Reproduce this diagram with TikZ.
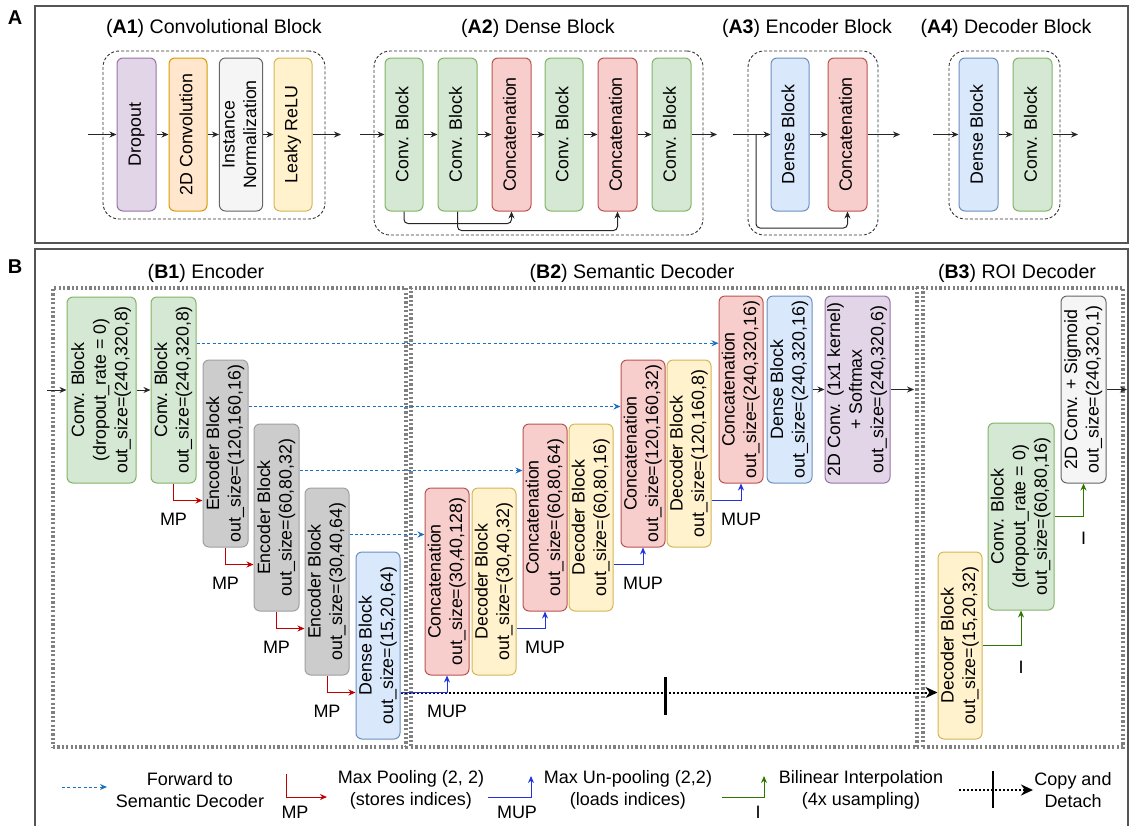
\documentclass[tikz,border=0pt]{standalone}
\usepackage{fontspec}
\setmainfont{Liberation Sans}
\usepackage{graphicx}
\usetikzlibrary{arrows.meta,fit,calc}

\definecolor{gF}{HTML}{D5E8D4}\definecolor{gS}{HTML}{82B366}
\definecolor{rF}{HTML}{F8CECC}\definecolor{rS}{HTML}{B85450}
\definecolor{bF}{HTML}{DAE8FC}\definecolor{bS}{HTML}{6C8EBF}
\definecolor{yF}{HTML}{FFF2CC}\definecolor{yS}{HTML}{D6B656}
\definecolor{oF}{HTML}{FFE6CC}\definecolor{oS}{HTML}{D79B00}
\definecolor{pF}{HTML}{E1D5E7}\definecolor{pS}{HTML}{9673A6}
\definecolor{lF}{HTML}{F5F5F5}\definecolor{lS}{HTML}{666666}
\definecolor{eF}{HTML}{CCCCCC}\definecolor{eS}{HTML}{A0A0A0}
\definecolor{fwdC}{HTML}{1F6FBF}
\definecolor{mpC}{HTML}{C00000}
\definecolor{mupC}{HTML}{2233DD}
\definecolor{iC}{HTML}{2D7600}
\definecolor{contC}{HTML}{808080}
\definecolor{frameC}{HTML}{555555}

\newcommand{\rt}[1]{\rotatebox{90}{\begin{tabular}{@{}c@{}}#1\end{tabular}}}
% box from pixel corners: style, name, x1, y1, x2, y2, text
\newcommand{\mybox}[7]{%
  \pgfmathsetmacro\myboxw{(#5-#3)*0.5}%
  \pgfmathsetmacro\myboxh{(#6-#4)*0.5}%
  \node[#1, minimum width=\myboxw pt, minimum height=\myboxh pt] (#2) at ({(#3+#5)/2},{(#4+#6)/2}) {\rt{#7}};}

\tikzset{
  box/.style={draw, rounded corners=3pt, inner sep=0pt, line width=0.5pt, font=\fontsize{8.9}{10.8}\selectfont},
  gbox/.style={box, fill=gF, draw=gS},
  rbox/.style={box, fill=rF, draw=rS},
  bbox/.style={box, fill=bF, draw=bS},
  ybox/.style={box, fill=yF, draw=yS},
  obox/.style={box, fill=oF, draw=oS},
  pbox/.style={box, fill=pF, draw=pS},
  lbox/.style={box, fill=lF, draw=lS},
  ebox/.style={box, fill=eF, draw=eS},
  cont/.style={draw=black!80, dash pattern=on 1.5pt off 1pt, line width=0.45pt, rounded corners=8pt, inner sep=0pt},
  bcont/.style={draw=contC, line width=1.7pt, dash pattern=on 1.1pt off 1.1pt, inner sep=0pt},
  arr/.style={draw=black!85, line width=0.5pt, -{Stealth[length=3.5pt,width=3pt]}},
  fwd/.style={draw=fwdC, line width=0.5pt, dash pattern=on 1.5pt off 1.2pt, -{Stealth[length=3.5pt,width=3pt]}},
  mp/.style={draw=mpC, line width=0.5pt, -{Stealth[length=3.5pt,width=3pt]}},
  mup/.style={draw=mupC, line width=0.5pt, -{Stealth[length=3.5pt,width=3pt]}},
  iarr/.style={draw=iC, line width=0.5pt, -{Stealth[length=3.5pt,width=3pt]}},
  copyl/.style={draw=black, line width=1pt, dash pattern=on 1pt off 1pt, -{Stealth[length=6pt,width=5.5pt]}},
  tick/.style={draw=black, line width=1.2pt},
  ttl/.style={font=\fontsize{9.8}{12}\selectfont, inner sep=0pt},
  lbl/.style={font=\fontsize{9}{11}\selectfont, inner sep=0pt},
  leg/.style={font=\fontsize{9}{11}\selectfont, align=center, inner sep=0pt},
  panel/.style={font=\bfseries\fontsize{10}{12}\selectfont, inner sep=0pt},
  frame/.style={draw=frameC, line width=0.8pt}
}

\begin{document}
\begin{tikzpicture}[x=0.5pt,y=-0.5pt]
\useasboundingbox (0,0) rectangle (1129,825);

% ---------------- Panel frames
\draw[frame] (35,6) rectangle (1128,243);
\draw[frame] (1128,830) -- (1128,249) -- (35,249) -- (35,830);
\node[panel] (pA) at (15,18) {A};
\node[panel] (pB) at (15,267) {B};

% ---------------- A1
\node[ttl] (a1t) at (214,28) {(\textbf{A1}) Convolutional Block};
\node[cont, fit={(103,51)(325,219)}] (a1box) {};
\mybox{pbox}{drop}{117}{58}{156}{211}{Dropout}
\mybox{obox}{conv2d}{169}{58}{207}{211}{2D Convolution}
\mybox{lbox}{inorm}{222}{58}{260}{211}{Instance\\Normalization}
\mybox{ybox}{leaky}{274}{58}{312}{211}{Leaky ReLU}
\coordinate (a1in) at (88,134.5);
\coordinate (a1out) at (341,134.5);
\draw[arr] (a1in) -- (drop);
\draw[arr] (drop) -- (conv2d);
\draw[arr] (conv2d) -- (inorm);
\draw[arr] (inorm) -- (leaky);
\draw[arr] (leaky) -- (a1out);

% ---------------- A2
\node[ttl] (a2t) at (538,28) {(\textbf{A2}) Dense Block};
\node[cont, fit={(374,51)(703,235)}] (a2box) {};
\mybox{gbox}{dc1}{385}{58}{423}{211}{Conv. Block}
\mybox{gbox}{dc2}{438}{58}{477}{211}{Conv. Block}
\mybox{rbox}{dcat1}{492}{58}{531}{211}{Concatenation}
\mybox{gbox}{dc3}{545}{58}{583}{211}{Conv. Block}
\mybox{rbox}{dcat2}{598}{58}{637}{211}{Concatenation}
\mybox{gbox}{dc4}{652}{58}{691}{211}{Conv. Block}
\coordinate (a2in) at (360,134.5);
\coordinate (a2out) at (717,134.5);
\draw[arr] (a2in) -- (dc1);
\draw[arr] (dc1) -- (dc2);
\draw[arr] (dc2) -- (dcat1);
\draw[arr] (dcat1) -- (dc3);
\draw[arr] (dc3) -- (dcat2);
\draw[arr] (dcat2) -- (dc4);
\draw[arr] (dc4) -- (a2out);
\draw[arr, rounded corners=2pt] (dc1.south) -- ++(0,12) -| (dcat1.south);
\draw[arr, rounded corners=2pt] (dc2.south) -- ++(0,19) -| (dcat2.south);

% ---------------- A3
\node[ttl] (a3t) at (807,28) {(\textbf{A3}) Encoder Block};
\node[cont, fit={(748,51)(878,235)}] (a3box) {};
\mybox{bbox}{edb}{771}{58}{809}{211}{Dense Block}
\mybox{rbox}{ecat}{828}{58}{867}{211}{Concatenation}
\coordinate (a3in) at (733,134.5);
\coordinate (a3split) at (756,134.5);
\coordinate (a3out) at (900,134.5);
\draw[arr] (a3in) -- (edb);
\draw[arr] (edb) -- (ecat);
\draw[arr] (ecat) -- (a3out);
\draw[arr, rounded corners=2pt] (a3split) -- ++(0,93.5) -| (ecat.south);

% ---------------- A4
\node[ttl] (a4t) at (1006,28) {(\textbf{A4}) Decoder Block};
\node[cont, fit={(949,51)(1060,219)}] (a4box) {};
\mybox{bbox}{ddb}{959}{58}{998}{211}{Dense Block}
\mybox{gbox}{dcb}{1013}{58}{1052}{211}{Conv. Block}
\coordinate (a4in) at (933,134.5);
\coordinate (a4out) at (1078,134.5);
\draw[arr] (a4in) -- (ddb);
\draw[arr] (ddb) -- (dcb);
\draw[arr] (dcb) -- (a4out);

% ---------------- B containers and titles
\node[ttl] (b1t) at (206,273) {(\textbf{B1}) Encoder};
\node[ttl] (b2t) at (632,273) {(\textbf{B2}) Semantic Decoder};
\node[ttl] (b3t) at (1017,273) {(\textbf{B3}) ROI Decoder};
\node[bcont, fit={(53,288)(406,747)}] (b1box) {};
\node[bcont, fit={(411,288)(917,747)}] (b2box) {};
\node[bcont, fit={(923,288)(1123,747)}] (b3box) {};

% ---------------- B1 Encoder
\mybox{gbox}{cb1}{67}{297}{136}{483}{Conv. Block\\(dropout\_rate = 0)\\out\_size=(240,320,8)}
\mybox{gbox}{cb2}{151}{297}{196}{483}{Conv. Block\\out\_size=(240,320,8)}
\mybox{ebox}{enc1}{203}{360}{248}{547}{Encoder Block\\out\_size=(120,160,16)}
\mybox{ebox}{enc2}{254}{424}{299}{611}{Encoder Block\\out\_size=(60,80,32)}
\mybox{ebox}{enc3}{305}{488}{349}{675}{Encoder Block\\out\_size=(30,40,64)}
\mybox{bbox}{dnb}{356}{552}{400}{739}{Dense Block\\out\_size=(15,20,64)}

% ---------------- B2 Semantic decoder
\mybox{rbox}{cat1}{425}{488}{469}{675}{Concatenation\\out\_size=(30,40,128)}
\mybox{ybox}{dec1}{472}{488}{516}{675}{Decoder Block\\out\_size=(30,40,32)}
\mybox{rbox}{cat2}{523}{424}{567}{611}{Concatenation\\out\_size=(60,80,64)}
\mybox{ybox}{dec2}{569}{424}{613}{611}{Decoder Block\\out\_size=(60,80,16)}
\mybox{rbox}{cat3}{621}{360}{665}{547}{Concatenation\\out\_size=(120,160,32)}
\mybox{ybox}{dec3}{667}{360}{711}{547}{Decoder Block\\out\_size=(120,160,8)}
\mybox{rbox}{cat4}{719}{296}{763}{483}{Concatenation\\out\_size=(240,320,16)}
\mybox{bbox}{dnb2}{767}{296}{812}{483}{Dense Block\\out\_size=(240,320,16)}
\mybox{pbox}{smax}{825}{296}{890}{483}{2D Conv. (1x1 kernel)\\+ Softmax\\out\_size=(240,320,6)}

% ---------------- B3 ROI decoder
\mybox{ybox}{decroi}{938}{552}{982}{739}{Decoder Block\\out\_size=(15,20,32)}
\mybox{gbox}{convroi}{988}{423}{1054}{610}{Conv. Block\\(dropout\_rate = 0)\\out\_size=(60,80,16)}
\mybox{lbox}{sig}{1061}{296}{1106}{483}{2D Conv. + Sigmoid\\out\_size=(240,320,1)}

% ---------------- B connectors
\coordinate (bin) at (47,390);
\draw[arr] (bin) -- (cb1);
\draw[arr] (cb1) -- (cb2);

% forward (skip) connections
\coordinate (f1) at ($(cb2.north east)!0.25!(cb2.south east)$);
\coordinate (f2) at ($(enc1.north east)!0.25!(enc1.south east)$);
\coordinate (f3) at ($(enc2.north east)!0.25!(enc2.south east)$);
\coordinate (f4) at ($(enc3.north east)!0.25!(enc3.south east)$);
\draw[fwd] (f1) -- (f1 -| cat4.west);
\draw[fwd] (f2) -- (f2 -| cat3.west);
\draw[fwd] (f3) -- (f3 -| cat2.west);
\draw[fwd] (f4) -- (f4 -| cat1.west);

% max pooling
\draw[mp] (cb2.south) |- ($(enc1.north west)!0.75!(enc1.south west)$) node[lbl, pos=0.5, yshift=-9.5pt] (mp1) {MP};
\draw[mp] (enc1.south) |- ($(enc2.north west)!0.75!(enc2.south west)$) node[lbl, pos=0.5, yshift=-9.5pt] (mp2) {MP};
\draw[mp] (enc2.south) |- ($(enc3.north west)!0.75!(enc3.south west)$) node[lbl, pos=0.5, yshift=-9.5pt] (mp3) {MP};
\draw[mp] (enc3.south) |- ($(dnb.north west)!0.75!(dnb.south west)$) node[lbl, pos=0.5, yshift=-9.5pt] (mp4) {MP};

% copy and detach
\coordinate (cp0) at ($(dnb.north east)!0.75!(dnb.south east)$);
\draw[copyl] (cp0) -- (cp0 -| decroi.west);
\coordinate (tka) at (665.5,677);
\coordinate (tkb) at (665.5,715);
\draw[tick] (tka) -- (tkb);

% max un-pooling
\draw[mup] (cp0) -| (cat1.south) node[lbl, pos=0.5, yshift=-9.5pt] (mup1) {MUP};
\draw[mup] ($(dec1.north east)!0.75!(dec1.south east)$) -| (cat2.south) node[lbl, pos=0.5, yshift=-9.5pt] (mup2) {MUP};
\draw[mup] ($(dec2.north east)!0.75!(dec2.south east)$) -| (cat3.south) node[lbl, pos=0.5, yshift=-9.5pt] (mup3) {MUP};
\draw[mup] ($(dec3.north east)!0.75!(dec3.south east)$) -| (cat4.south) node[lbl, pos=0.5, yshift=-9.5pt] (mup4) {MUP};

\draw[arr] (dnb2) -- (smax);
\coordinate (smout) at (914,389.5);
\draw[arr] (smax) -- (smout);

% bilinear interpolation
\draw[iarr] (decroi.east) -| (convroi.south) node[lbl, pos=0.5, yshift=-11pt] (i1) {I};
\draw[iarr] (convroi.east) -| (sig.south) node[lbl, pos=0.5, yshift=-11pt] (i2) {I};
\coordinate (sigout) at (1127,389.5);
\draw[arr] (sig) -- (sigout);

% ---------------- Legend
\coordinate (lf0) at (62,787);
\coordinate (lf1) at (107,787);
\draw[fwd] (lf0) -- (lf1);
\node[leg] (lft) at (190,790) {Forward to\\Semantic Decoder};

\coordinate (lm0) at (286,774);
\coordinate (lm1) at (327,797);
\draw[mp] (lm0) |- (lm1);
\node[lbl] (lmp) at (295,812) {MP};
\node[leg] (lmt) at (411,790) {Max Pooling (2, 2)\\(stores indices)};

\coordinate (lu0) at (488,797);
\coordinate (lu1) at (531,776);
\draw[mup] (lu0) -| (lu1);
\node[lbl] (lmup) at (517,812) {MUP};
\node[leg] (lut) at (628,790) {Max Un-pooling (2,2)\\(loads indices)};

\coordinate (li0) at (722,797);
\coordinate (li1) at (764,776);
\draw[iarr] (li0) -| (li1);
\node[lbl] (lil) at (758,812) {I};
\node[leg] (lit) at (861,790) {Bilinear Interpolation\\(4x usampling)};

\coordinate (lc0) at (959,790);
\coordinate (lc1) at (1033,790);
\draw[copyl] (lc0) -- (lc1);
\coordinate (ltka) at (993,771);
\coordinate (ltkb) at (993,808);
\draw[tick] (ltka) -- (ltkb);
\node[leg] (lct) at (1073,790) {Copy and\\Detach};
\end{tikzpicture}
\end{document}
